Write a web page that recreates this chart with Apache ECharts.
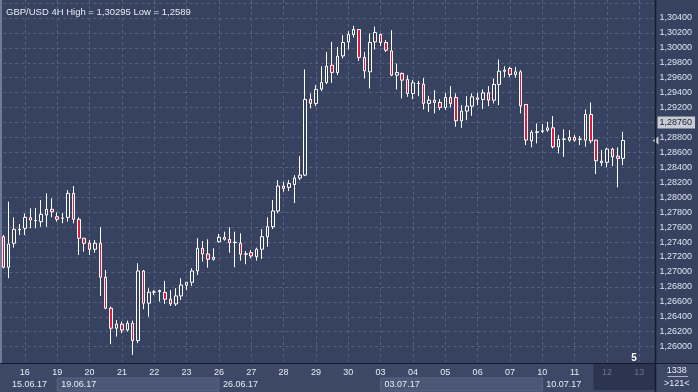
<!DOCTYPE html>
<html><head><meta charset="utf-8">
<script src="https://cdn.jsdelivr.net/npm/echarts@6/dist/echarts.min.js"></script>
<style>html,body{margin:0;padding:0;background:#36425f;}#c{width:698px;height:392px;}</style>
</head><body><div id="c"></div>
<script>
const titleText = 'GBP/USD 4H High = 1,30295 Low = 1,2589';
const days = ['15','16','19','20','21','22','23','26','27','28','29','30','03','04','05','06','07','10','11','12','13'];
const greyDays = ['12','13'];
const weekLabels = ['15.06.17','19.06.17','26.06.17','03.07.17','10.07.17'];
const lastPrice = 1.2876;
const lastPriceLabel = '1,28760';
const cornerTop = '1338';
const cornerBottom = '>121<';
const markerDigit = '5';

const opens = [1.27472,1.27063,1.27384,1.27571,1.27584,1.27726,1.27690,1.27673,1.27762,1.27838,
1.27739,1.27722,1.27731,1.28052,1.27705,1.27451,1.27384,1.27304,1.27384,1.26929,
1.26515,1.26247,1.26301,1.26223,1.26314,1.26081,1.27013,1.26582,1.26729,1.26735,
1.26726,1.26635,1.26572,1.26679,1.26822,1.26862,1.27013,1.27317,1.27241,1.27170,
1.27405,1.27464,1.27437,1.27392,1.27384,1.27237,1.27258,1.27205,1.27304,1.27472,
1.27606,1.27816,1.28150,1.28132,1.28170,1.28257,1.28296,1.29309,1.29256,1.29447,
1.29536,1.29767,1.29670,1.29892,1.30079,1.30178,1.30245,1.29871,1.29678,1.30079,
1.30178,1.30071,1.29959,1.29634,1.29657,1.29576,1.29389,1.29526,1.29514,1.29256,
1.29299,1.29269,1.29202,1.29336,1.29336,1.29023,1.29153,1.29219,1.29330,1.29309,
1.29397,1.29299,1.29510,1.29687,1.29723,1.29643,1.29678,1.29242,1.28755,1.28868,
1.28880,1.28898,1.28929,1.28675,1.28774,1.28764,1.28801,1.28774,1.28764,1.29108,
1.28764,1.28461,1.28467,1.28645,1.28550,1.28520];
const closes = [1.27063,1.27374,1.27571,1.27565,1.27731,1.27695,1.27686,1.27771,1.27838,1.27806,
1.27705,1.27718,1.28052,1.27705,1.27451,1.27384,1.27304,1.27384,1.26929,1.26515,
1.26247,1.26301,1.26223,1.26314,1.26081,1.27013,1.26582,1.26729,1.26733,1.26752,
1.26635,1.26572,1.26679,1.26825,1.26862,1.27013,1.27317,1.27241,1.27170,1.27197,
1.27464,1.27437,1.27392,1.27398,1.27237,1.27243,1.27214,1.27304,1.27472,1.27606,
1.27816,1.28150,1.28119,1.28183,1.28257,1.28296,1.29309,1.29256,1.29443,1.29536,
1.29754,1.29670,1.29888,1.30071,1.30178,1.30245,1.29871,1.29691,1.30071,1.30205,
1.30071,1.29968,1.29634,1.29670,1.29567,1.29389,1.29531,1.29522,1.29256,1.29299,
1.29269,1.29202,1.29336,1.29256,1.29023,1.29153,1.29219,1.29344,1.29309,1.29397,
1.29299,1.29510,1.29687,1.29701,1.29643,1.29678,1.29223,1.28765,1.28868,1.28876,
1.28889,1.28929,1.28675,1.28774,1.28780,1.28801,1.28764,1.28778,1.29108,1.28755,
1.28488,1.28484,1.28645,1.28541,1.28520,1.28760];
const lows = [1.27047,1.26916,1.27325,1.27494,1.27494,1.27584,1.27584,1.27606,1.27606,1.27731,
1.27673,1.27651,1.27673,1.27651,1.27226,1.27271,1.27226,1.27258,1.26679,1.26501,
1.26033,1.26135,1.26180,1.26202,1.25890,1.26047,1.26501,1.26402,1.26691,1.26603,
1.26572,1.26545,1.26545,1.26624,1.26758,1.26813,1.26959,1.27138,1.27057,1.27151,
1.27392,1.27418,1.27258,1.27063,1.27151,1.27103,1.27183,1.27151,1.27174,1.27338,
1.27575,1.27785,1.28074,1.28083,1.27922,1.28229,1.28283,1.29189,1.29219,1.29424,
1.29514,1.29531,1.29634,1.29857,1.29978,1.30138,1.29825,1.29590,1.29456,1.29978,
1.30022,1.29945,1.29620,1.29443,1.29322,1.29344,1.29313,1.29353,1.29175,1.29143,
1.29122,1.29166,1.29169,1.29202,1.28943,1.28929,1.29032,1.29090,1.29233,1.29179,
1.29219,1.29256,1.29233,1.29603,1.29611,1.29603,1.29122,1.28698,1.28667,1.28721,
1.28862,1.28876,1.28654,1.28587,1.28541,1.28742,1.28742,1.28698,1.28675,1.28721,
1.28310,1.28417,1.28400,1.28417,1.28132,1.28430];
const highs = [1.27495,1.27940,1.27731,1.27642,1.27785,1.27852,1.27856,1.27962,1.28052,1.27985,
1.27798,1.27789,1.28096,1.28150,1.27731,1.27455,1.27427,1.27427,1.27598,1.27026,
1.26536,1.26357,1.26336,1.26349,1.26349,1.27116,1.27026,1.26782,1.26758,1.26762,
1.26880,1.26758,1.26782,1.26916,1.26866,1.27049,1.27451,1.27414,1.27437,1.27317,
1.27508,1.27539,1.27598,1.27539,1.27517,1.27281,1.27293,1.27325,1.27571,1.27731,
1.27962,1.28229,1.28207,1.28229,1.28296,1.28551,1.29710,1.29389,1.29500,1.29754,
1.29945,1.30079,1.30012,1.30169,1.30222,1.30295,1.30250,1.29945,1.30191,1.30285,
1.30191,1.30102,1.30236,1.29790,1.29670,1.29634,1.29567,1.29558,1.29598,1.29357,
1.29433,1.29313,1.29397,1.29487,1.29389,1.29233,1.29353,1.29389,1.29397,1.29443,
1.29487,1.29590,1.29844,1.29754,1.29745,1.29745,1.29701,1.29245,1.28898,1.28988,
1.28979,1.29009,1.29086,1.28831,1.28908,1.28898,1.28831,1.28818,1.29175,1.29269,
1.28770,1.28631,1.28662,1.28662,1.28667,1.28876];

// categories: one per 4H bar
const categories = [];
days.forEach((d, k) => {
  const hours = k === 0 ? ['08','12','16','20'] : ['00','04','08','12','16','20'];
  hours.forEach(h => categories.push(d + ' ' + h));
});
categories.length = 122;
const candles = opens.map((o, i) => [o, closes[i], lows[i], highs[i]]);

const FONT = '"Liberation Sans", Arial, sans-serif';
const BG = '#36425f';
const GRID_COLOR = '#56627e';
const isDayStart = (v) => v.split(' ')[1] === '00';

const chart = echarts.init(document.getElementById('c'), null, {renderer: 'canvas', devicePixelRatio: 1});
chart.setOption({
  animation: false,
  backgroundColor: BG,
  title: {
    text: titleText, left: 1, top: 2,
    textStyle: {fontSize: 9.5, fontWeight: 'normal', color: '#e4eaf3', fontFamily: FONT}
  },
  grid: {left: 3.3, right: 42.5, top: 0, bottom: 30.4, containLabel: false},
  xAxis: {
    type: 'category', data: categories, boundaryGap: false,
    axisLine: {show: false}, axisTick: {show: false},
    axisLabel: {
      interval: (i, v) => isDayStart(v),
      formatter: v => v.split(' ')[0],
      margin: 6, fontSize: 9, fontFamily: FONT,
      color: v => greyDays.includes(v.split(' ')[0]) ? '#68738d' : '#e6ecf5'
    },
    splitLine: {show: true, interval: (i, v) => isDayStart(v),
      lineStyle: {color: GRID_COLOR, type: [3, 3], width: 1}}
  },
  yAxis: {
    type: 'value', position: 'right', min: 1.258, max: 1.3064, interval: 0.002,
    axisLine: {show: false}, axisTick: {show: false},
    axisLabel: {
      margin: 4, fontSize: 9, fontFamily: FONT, color: '#dbe4f0',
      showMinLabel: false, showMaxLabel: false,
      formatter: v => (v < 1.2599 || v > 1.3041) ? '' : v.toFixed(5).replace('.', ',')
    },
    splitLine: {show: true, showMinLine: false, showMaxLine: false,
      lineStyle: {color: GRID_COLOR, type: [3, 3], width: 1}}
  },
  series: [{
    type: 'candlestick', data: candles, barWidth: 3, clip: false,
    itemStyle: {color: BG, color0: '#e3163c', borderColor: '#ffffff', borderColor0: '#ffffff', borderWidth: 1},
    markLine: {
      silent: true, symbol: 'none',
      data: [{yAxis: lastPrice}],
      lineStyle: {color: 'rgba(0,0,0,0)', width: 1, type: 'solid'},
      label: {show: true, position: 'end', formatter: lastPriceLabel, distance: 2,
        backgroundColor: '#c6cbd4', color: '#1a2030', fontSize: 9, fontFamily: FONT,
        padding: [2, 3, 1, 2]}
    },
    markPoint: {
      silent: true,
      data: [{coord: [categories[121], lastPrice], symbol: 'triangle', symbolRotate: 90, symbolSize: [8, 6],
        itemStyle: {color: '#c6cbd4'}, label: {show: false}}]
    }
  }]
});

// decorations placed through the axis scale
const xp = i => chart.convertToPixel({xAxisIndex: 0}, i);
const axisTop = 363, W = 698, H = 392, yAxisX = xp(121);
const g = [];
g.push({type: 'rect', z: -10, shape: {x: 0, y: axisTop, width: W, height: H - axisTop}, style: {fill: '#3c4866'}});
[[10, 40], [70, 100]].forEach(([a, b]) => {
  g.push({type: 'rect', z: -9, shape: {x: xp(a), y: 378, width: xp(b) - xp(a), height: 13},
    style: {fill: '#4a5775', stroke: '#5a6785', lineWidth: 1}});
});
g.push({type: 'rect', z: -9, shape: {x: (xp(109) + xp(110)) / 2, y: axisTop, width: yAxisX - (xp(109) + xp(110)) / 2, height: 27},
  style: {fill: '#2b3550'}});
const weekX = [12, xp(10) + 4, xp(40) + 4, xp(70) + 4, xp(100) + 4];
weekLabels.forEach((t, k) => g.push({type: 'text', z: 10, x: weekX[k], y: 384.5,
  style: {text: t, fill: '#e6ecf5', font: '9px ' + FONT, textVerticalAlign: 'middle', textAlign: 'left'}}));
g.push({type: 'line', z: 20, shape: {x1: 0, y1: axisTop + 0.5, x2: W, y2: axisTop + 0.5}, style: {stroke: '#161c2a', lineWidth: 1}});
g.push({type: 'line', z: 20, shape: {x1: yAxisX, y1: 0, x2: yAxisX, y2: H}, style: {stroke: '#161c2a', lineWidth: 1.5}});
g.push({type: 'rect', z: 20, shape: {x: 0, y: 0, width: 2, height: axisTop}, style: {fill: '#6d7c98'}});
g.push({type: 'text', z: 10, x: (yAxisX + W) / 2, y: 371, style: {text: cornerTop, fill: '#e6ecf5', font: '9px ' + FONT, textAlign: 'center', textVerticalAlign: 'middle'}});
g.push({type: 'line', z: 10, shape: {x1: yAxisX + 12, y1: 376.5, x2: W - 10, y2: 376.5}, style: {stroke: '#aab4c6', lineWidth: 1}});
g.push({type: 'text', z: 10, x: (yAxisX + W) / 2, y: 383.5, style: {text: cornerBottom, fill: '#e6ecf5', font: '9px ' + FONT, textAlign: 'center', textVerticalAlign: 'middle'}});
g.push({type: 'text', z: 10, x: xp(117), y: 358, style: {text: markerDigit, fill: '#ffffff', font: 'bold 10px ' + FONT, textAlign: 'center', textVerticalAlign: 'middle'}});
chart.setOption({graphic: g});
</script></body></html>
